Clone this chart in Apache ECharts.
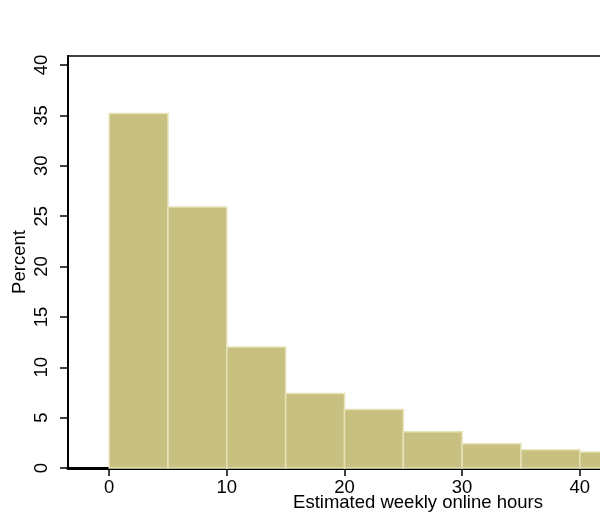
<!DOCTYPE html>
<html>
<head>
<meta charset="utf-8">
<script src="https://cdn.jsdelivr.net/npm/echarts@6/dist/echarts.min.js"></script>
<style>
  html, body { margin: 0; padding: 0; background: #fff; }
  #wrap { position: relative; width: 600px; height: 517px; overflow: hidden; }
  #chart { width: 600px; height: 517px; }
  #xtitle {
    position: absolute; left: 418px; top: 502px;
    transform: translate(-50%, -50%);
    white-space: nowrap; line-height: 1;
    font: 18.5px 'Liberation Sans', Arial, sans-serif; color: #000;
  }
</style>
</head>
<body>
<div id="wrap">
  <div id="chart"></div>
  <div id="xtitle"></div>
</div>
<script>
// Histogram of estimated weekly online hours (bin width 5 hours)
const binStarts = [0, 5, 10, 15, 20, 25, 30, 35, 40];
const binWidth = 5;
const percents = [35.2, 25.9, 12.0, 7.4, 5.8, 3.6, 2.4, 1.8, 1.6];
const xTicks = [0, 10, 20, 30, 40, 50];
const yTicks = [0, 5, 10, 15, 20, 25, 30, 35, 40];
const xTitle = 'Estimated weekly online hours';
const yTitle = 'Percent';

const histData = binStarts.map((s, i) => [s, s + binWidth, percents[i]]);

// x-axis title sits centred under the full plot region, tucked right under the tick labels
document.getElementById('xtitle').textContent = xTitle;

const font = 'Liberation Sans, Arial, sans-serif';
const fontSize = 18.5;
const chart = echarts.init(document.getElementById('chart'));

chart.setOption({
  animation: false,
  grid: {
    left: 68, top: 56, height: 412, width: 700,
    outerBoundsMode: 'none',
    show: true, borderColor: '#404040', borderWidth: 2, backgroundColor: '#fff'
  },
  xAxis: {
    type: 'value', min: -3.5, max: 56,
    axisLine: { show: true, onZero: false, lineStyle: { color: '#000', width: 3 } },
    axisTick: { show: true, length: 8, lineStyle: { color: '#000', width: 1.5 }, customValues: xTicks },
    axisLabel: {
      color: '#000', fontFamily: font, fontSize: fontSize, margin: 10,
      hideOverlap: false, customValues: xTicks
    },
    splitLine: { show: false }
  },
  yAxis: {
    type: 'value', min: 0, max: 40.9,
    name: yTitle,
    nameLocation: 'middle', nameGap: 39, nameRotate: 90, nameMoveOverlap: false,
    nameTextStyle: { color: '#000', fontFamily: font, fontSize: fontSize },
    axisLine: { show: true, onZero: false, lineStyle: { color: '#000', width: 2 } },
    axisTick: { show: true, length: 8, lineStyle: { color: '#000', width: 1.5 }, customValues: yTicks },
    axisLabel: { color: '#000', fontFamily: font, fontSize: fontSize, rotate: 90, margin: 17, customValues: yTicks },
    splitLine: { show: false }
  },
  series: [{
    type: 'custom',
    data: histData,
    encode: { x: [0, 1], y: 2 },
    renderItem: function (params, api) {
      const p0 = api.coord([api.value(0), api.value(2)]);
      const p1 = api.coord([api.value(1), 0]);
      return {
        type: 'rect',
        shape: { x: p0[0], y: p0[1], width: p1[0] - p0[0], height: p1[1] - p0[1] },
        style: { fill: '#c8c081', stroke: '#e6e2b6', lineWidth: 1.5 }
      };
    }
  }]
});
</script>
</body>
</html>
